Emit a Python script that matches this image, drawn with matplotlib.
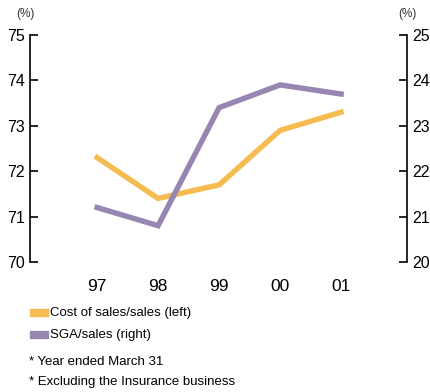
import matplotlib.pyplot as plt
import matplotlib.patches as mpatches

# data
years = ['97', '98', '99', '00', '01']
cost_ratio = [72.3, 71.4, 71.7, 72.9, 73.3]   # left axis
sga_ratio = [21.2, 20.8, 23.4, 23.9, 23.7]    # right axis
left_ticks = [70, 71, 72, 73, 74, 75]
right_ticks = [20, 21, 22, 23, 24, 25]

orange = '#F5BC52'
purple = '#9786B2'

plt.rcParams['font.family'] = ['Liberation Sans', 'DejaVu Sans']

fig = plt.figure(figsize=(4.31, 3.92), dpi=100)
ax = fig.add_axes([30/431, 1 - 262/392, (407 - 30)/431, (262 - 35)/392])
ax2 = ax.twinx()

x = list(range(len(years)))
ax.plot(x, cost_ratio, color=orange, lw=3.9, solid_joinstyle='miter', zorder=3)
ax2.plot(x, sga_ratio, color=purple, lw=3.9, solid_joinstyle='miter', zorder=3)

ax.set_xlim(-1.1, 5.08)
ax.set_ylim(70, 75)
ax2.set_ylim(20, 25)
ax.set_yticks(left_ticks)
ax2.set_yticks(right_ticks)
ax.set_xticks(x)
ax.set_xticklabels(years)

for a in (ax, ax2):
    for s in ('top', 'bottom'):
        a.spines[s].set_visible(False)
    a.spines['left'].set_linewidth(1.2)
    a.spines['right'].set_linewidth(1.2)
    a.tick_params(axis='y', direction='in', length=6, width=1.2, labelsize=11.5, pad=3.5)
ax.spines['right'].set_visible(False)
ax2.spines['left'].set_visible(False)
ax.tick_params(axis='x', length=0, labelsize=12.5, pad=12)

fig.text(25/431, 1 - 14/392, '(%)', fontsize=8.5, ha='center', va='center', color='#333333')
fig.text(407/431, 1 - 14/392, '(%)', fontsize=8.5, ha='center', va='center', color='#333333')

# legend
fig.patches.append(mpatches.Rectangle((30/431, 1 - 316/392), 18/431, 7/392,
                                      color=orange, transform=fig.transFigure))
fig.patches.append(mpatches.Rectangle((30/431, 1 - 338/392), 18/431, 7/392,
                                      color=purple, transform=fig.transFigure))
fig.text(50/431, 1 - 313/392, 'Cost of sales/sales (left)', fontsize=9.5, va='center')
fig.text(50/431, 1 - 335/392, 'SGA/sales (right)', fontsize=9.5, va='center')
fig.text(29/431, 1 - 362/392, '* Year ended March 31', fontsize=9.5, va='center')
fig.text(29/431, 1 - 382/392, '* Excluding the Insurance business', fontsize=9.5, va='center')

fig.savefig('out.png', dpi=100)
